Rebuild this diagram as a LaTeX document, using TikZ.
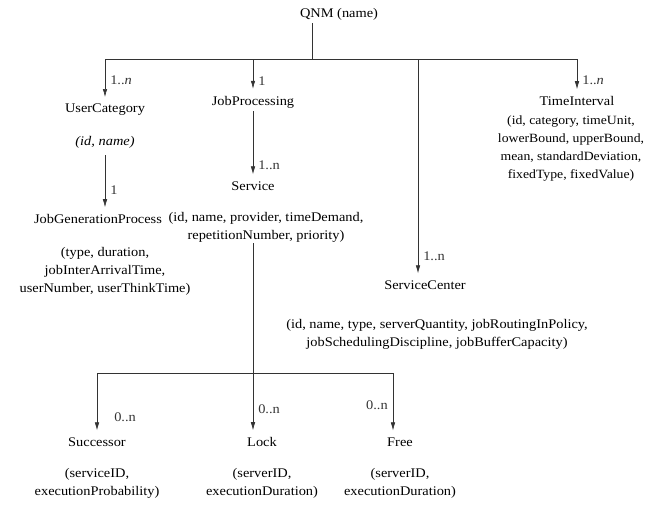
\documentclass[tikz,border=0pt]{standalone}
\usepackage{fontspec}
\setmainfont{Liberation Serif}[FakeStretch=1.09]
\usetikzlibrary{positioning, arrows.meta}
\tikzset{>={Latex[length=8pt,width=4.5pt]},
         every node/.style={font=\fontsize{13.2}{18}\selectfont},
         cls/.style={inner sep=3pt},
         attr/.style={align=center, inner sep=1pt},
         link/.style={->, line width=0.6pt, black!80, shorten >=4pt},
         bar/.style={line width=0.6pt, black!80},
         mult/.style={inner sep=1pt, anchor=south west, xshift=4pt, yshift=15pt},
         }

\begin{document}
\begin{tikzpicture}[x=1pt, y=-1pt]
    \useasboundingbox (0,0) rectangle (648,512);

    % root and its bar
    \node[cls] (qnm) at (339,14) {QNM (name)};
    \coordinate (top)  at (312,59);
    \coordinate (barL) at (105,59);
    \coordinate (barJ) at (253,59);
    \coordinate (barS) at (418,59);
    \coordinate (barR) at (577,59);

    % user side
    \node[cls] (uc) at (105,110) {UserCategory};
    \node[attr] (ucA) at (105,142) {\textit{(id, name)}};
    \node[cls] (jgp) at (98,219) {JobGenerationProcess};
    \node[attr] (jgpA) at (105,271) {(type, duration,\\jobInterArrivalTime,\\userNumber, userThinkTime)};

    % job processing
    \node[cls] (jp) at (253,102) {JobProcessing};
    \node[cls] (srv) at (253,186) {Service};
    \node[attr] (srvA) at (266,227) {(id, name, provider, timeDemand,\\repetitionNumber, priority)};

    % service center and time interval
    \node[cls] (sc) at (425,285) {ServiceCenter};
    \node[attr] (scA) at (437,334) {(id, name, type, serverQuantity, jobRoutingInPolicy,\\jobSchedulingDiscipline, jobBufferCapacity)};
    \node[cls] (ti) at (577,101) {TimeInterval};
    \node[attr, font=\fontsize{12.6}{18}\selectfont] (tiA) at (571,148) {(id, category, timeUnit,\\lowerBound, upperBound,\\mean, standardDeviation,\\fixedType, fixedValue)};

    % service children
    \coordinate (sbar)  at (253,373);
    \coordinate (sbarL) at (97,373);
    \coordinate (sbarR) at (393,373);
    \node[cls] (suc) at (97,442) {Successor};
    \node[attr] (sucA) at (97,483) {(serviceID,\\executionProbability)};
    \node[cls] (lock) at (262,442) {Lock};
    \node[attr] (lockA) at (262,483) {(serverID,\\executionDuration)};
    \node[cls] (free) at (400,442) {Free};
    \node[attr] (freeA) at (400,483) {(serverID,\\executionDuration)};

    \draw[bar] (qnm.south -| top) -- (top)
               (barL) -- (barR);
    \draw[link] (barL) -- (barL |- uc.north) node[mult]{1..\textit{n}};
    \draw[link] (barJ) -- (jp) node[mult]{1};
    \draw[link] (barS) -- (barS |- sc.north) node[mult]{1..n};
    \draw[link] (barR) -- (ti) node[mult]{1..\textit{n}};
    \draw[link, shorten <=6pt] (ucA.south) -- (uc.center |- jgp.north) node[mult]{1};
    \draw[link] (jp) -- (srv) node[mult]{1..n};

    \draw[bar] (srvA.south -| sbar) -- (sbar)
               (sbarL) -- (sbarR);
    \draw[link] (sbarL) -- (suc) node[mult, xshift=12pt, yshift=4pt]{0..n};
    \draw[link] (sbar) -- (sbar |- lock.north) node[mult, yshift=4pt]{0..n};
    \draw[link] (sbarR) -- (sbarR |- free.north) node[mult, anchor=south east, xshift=-8pt, yshift=8pt]{0..n};
\end{tikzpicture}
\end{document}
